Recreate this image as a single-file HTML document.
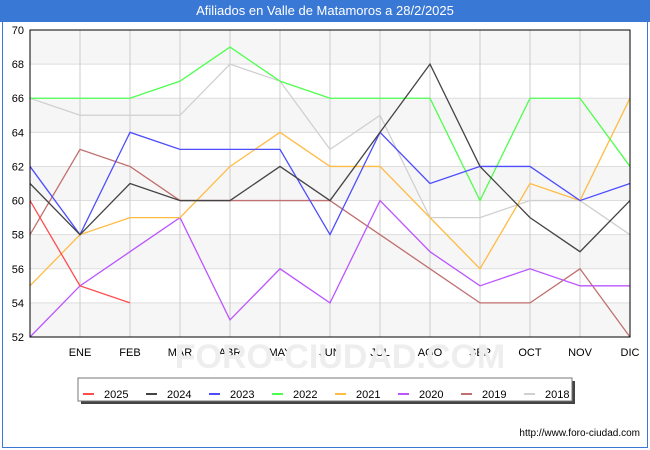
<!DOCTYPE html>
<html><head><meta charset="utf-8"><style>
body{margin:0;width:650px;height:450px;background:#fff;font-family:"Liberation Sans","DejaVu Sans",sans-serif;position:relative;overflow:hidden}
#title{position:absolute;left:0;top:0;width:650px;height:22px;background:#3a78d6;color:#fff;font-size:13px;text-align:center;line-height:22px}
#url{position:absolute;right:10px;top:428px;font-size:10px;color:#000}
</style></head><body>
<div id="title">Afiliados en Valle de Matamoros a 28/2/2025</div>
<div style="position:absolute;left:2px;top:22px;width:646px;height:426px;border:1px solid #3a78d6;border-top:none;box-sizing:border-box"></div>
<svg id="chart" width="650" height="450" style="position:absolute;left:0;top:0"></svg>
<div id="url">http://www.foro-ciudad.com</div>
<script>
const months=["","ENE","FEB","MAR","ABR","MAY","JUN","JUL","AGO","SEP","OCT","NOV","DIC"];
const yTicks=[52,54,56,58,60,62,64,66,68,70];
const seriesNames=["2025","2024","2023","2022","2021","2020","2019","2018"];
const colors=["#ff4d4d","#444444","#4d4dff","#4dff4d","#ffbb44","#bb55ff","#c07070","#d0d0d0"];
const s2025=[60,55,54];
const s2024=[61,58,61,60,60,62,60,64,68,62,59,57,60];
const s2023=[62,58,64,63,63,63,58,64,61,62,62,60,61];
const s2022=[66,66,66,67,69,67,66,66,66,60,66,66,62];
const s2021=[55,58,59,59,62,64,62,62,59,56,61,60,66];
const s2020=[52,55,57,59,53,56,54,60,57,55,56,55,55];
const s2019=[58,63,62,60,60,60,60,58,56,54,54,56,52];
const s2018=[66,65,65,65,68,67,63,65,59,59,60,60,58];
const allSeries=[s2025,s2024,s2023,s2022,s2021,s2020,s2019,s2018];
const L=30,R=630,T=30,B=337,ymin=52,ymax=70;
const xs=i=>L+i*(R-L)/(months.length-1);
const ys=v=>B-(v-ymin)*(B-T)/(ymax-ymin);
const svg=document.getElementById('chart');const NS="http://www.w3.org/2000/svg";
function mk(t,a){const e=document.createElementNS(NS,t);for(const k in a)e.setAttribute(k,a[k]);svg.appendChild(e);return e;}
let e=mk('rect',{x:L,y:T,width:R-L,height:B-T,fill:'#fff'});


for(let v=ymin;v<ymax;v+=4){e=mk('rect',{x:L,y:ys(v+2),width:R-L,height:ys(v)-ys(v+2),fill:'#f6f6f6'});

}
yTicks.forEach(v=>{e=mk('line',{x1:L,x2:R,y1:ys(v),y2:ys(v),stroke:'#ddd'});


e=mk('text',{x:L-6,y:ys(v)+4,'text-anchor':'end','font-size':11,fill:'#000'});e.textContent=v;

});
months.forEach((m,i)=>{if(i>0){e=mk('line',{x1:xs(i),x2:xs(i),y1:T,y2:B,stroke:'#ccc'});

}
e=mk('text',{x:xs(i),y:B+19,'text-anchor':'middle','font-size':11,fill:'#000'});e.textContent=m;

});
e=mk('text',{x:340,y:368,'text-anchor':'middle','font-size':34,fill:'#eeeeee','font-weight':'bold'});e.textContent="FORO-CIUDAD.COM";


for(let k=allSeries.length-1;k>=0;k--){const d=allSeries[k];
e=mk('polyline',{points:d.map((v,i)=>xs(i)+','+ys(v)).join(' '),fill:'none',stroke:colors[k],'stroke-width':1.3});

}
e=mk('rect',{x:L,y:T,width:R-L,height:B-T,fill:'none',stroke:'#000'});


e=mk('rect',{x:81,y:381,width:494,height:23,fill:'#444'});


e=mk('rect',{x:78,y:378,width:494,height:23,fill:'#fff',stroke:'#777'});


seriesNames.forEach((n,k)=>{const x0=83+k*63;
e=mk('line',{x1:x0,x2:x0+11,y1:394,y2:394,stroke:colors[k],'stroke-width':2});


e=mk('text',{x:x0+21,y:398,'font-size':11,fill:'#000'});e.textContent=n;

});
</script>
</body></html>
